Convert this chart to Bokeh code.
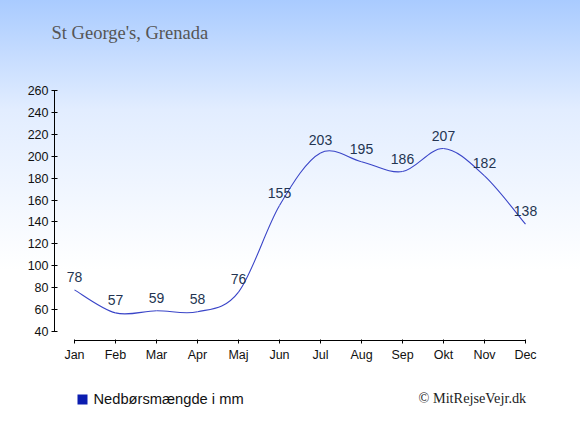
from bokeh.plotting import figure
from bokeh.layouts import column
from bokeh.models import (Range1d, FixedTicker, Label, BoxAnnotation, ColumnDataSource, Title)
from bokeh.core.properties import value
from bokeh.transform import dodge
from bokeh.embed import file_html
from bokeh.resources import INLINE

months = ["Jan", "Feb", "Mar", "Apr", "Maj", "Jun", "Jul", "Aug", "Sep", "Okt", "Nov", "Dec"]
rain_mm = [78, 57, 59, 58, 76, 155, 203, 195, 186, 207, 182, 138]
y_ticks = [40, 60, 80, 100, 120, 140, 160, 180, 200, 220, 240, 260]
title_text = "St George's, Grenada"
legend_text = "Nedbørsmængde i mm"
credit_text = "© MitRejseVejr.dk"

xs = list(range(1, len(months) + 1))


def strip(height, top):
    f = figure(width=580, height=height, output_backend="svg", toolbar_location=None, title=None,
               x_range=Range1d(0, 1), y_range=Range1d(0, 1),
               x_axis_location=None, y_axis_location=None,
               min_border_left=54, min_border_right=35, min_border_top=top, min_border_bottom=0)
    f.border_fill_color = None
    f.background_fill_color = None
    f.outline_line_color = None
    f.grid.visible = False
    return f


# top strip with the title
p0 = strip(44, 42)
p0.add_layout(Title(text=title_text, align="left", vertical_align="bottom", offset=-3, standoff=0,
                    text_font="Liberation Serif", text_font_size="18.5px",
                    text_font_style="normal", text_color="#555555"), "above")

# main chart
p = figure(width=580, height=336, output_backend="svg", toolbar_location=None, title=None,
           x_range=Range1d(1 - 20 / 41, 12 + 20 / 41),
           y_range=Range1d(40 - 9 / 1.0955, 260 + 5 / 1.0955),
           min_border_left=54, min_border_right=35, min_border_top=41, min_border_bottom=40)
p.border_fill_color = None
p.background_fill_color = None
p.outline_line_color = None
p.grid.visible = False

p.xaxis.ticker = FixedTicker(ticks=xs)
p.xaxis.major_label_overrides = {i: m for i, m in zip(xs, months)}
p.xaxis.bounds = (1, 12)
p.yaxis.ticker = FixedTicker(ticks=y_ticks)
p.yaxis.bounds = (y_ticks[0], y_ticks[-1])
for ax in (p.xaxis, p.yaxis):
    ax.axis_line_color = "black"
    ax.major_tick_line_color = "black"
    ax.minor_tick_line_color = None
    ax.major_label_text_font = "Liberation Sans"
    ax.major_label_text_font_size = "12.5px"
    ax.major_label_text_color = "#111111"
p.xaxis.major_tick_in = 1
p.xaxis.major_tick_out = 3
p.xaxis.major_label_standoff = 4
p.yaxis.major_tick_in = 3
p.yaxis.major_tick_out = 3
p.yaxis.major_label_standoff = 3

# smooth line (Catmull-Rom as Bezier segments)
pts = list(zip(xs, rain_mm))
x0, y0, x1, y1, cx0, cy0, cx1, cy1 = [], [], [], [], [], [], [], []
n = len(pts)
for i in range(n - 1):
    pm = pts[max(i - 1, 0)]
    pa = pts[i]
    pb = pts[i + 1]
    pn = pts[min(i + 2, n - 1)]
    x0.append(pa[0]); y0.append(pa[1])
    x1.append(pb[0]); y1.append(pb[1])
    cx0.append(pa[0] + (pb[0] - pm[0]) / 6); cy0.append(pa[1] + (pb[1] - pm[1]) / 6)
    cx1.append(pb[0] - (pn[0] - pa[0]) / 6); cy1.append(pb[1] - (pn[1] - pa[1]) / 6)
p.bezier(x0=x0, y0=y0, x1=x1, y1=y1, cx0=cx0, cy0=cy0, cx1=cx1, cy1=cy1,
         line_color="#3a45c8", line_width=1.1)

# value labels
src = ColumnDataSource(dict(x=xs, y=rain_mm, t=[str(v) for v in rain_mm]))
p.text(x="x", y=dodge("y", 11.8, range=p.y_range), text="t", source=src,
       text_align="center", text_baseline="middle",
       text_font=value("Liberation Sans"), text_font_size="14px", text_color="#243552")

# bottom strip: legend key and credit (frame aligned with p: 54..545)
p2 = strip(55, 0)
p2.add_layout(BoxAnnotation(left=23, right=33, bottom=31, top=41,
                            left_units="screen", right_units="screen",
                            bottom_units="screen", top_units="screen",
                            fill_color="#0b1db0", fill_alpha=1.0, line_color=None))
p2.add_layout(Label(x=39, y=37, x_units="screen", y_units="screen", text=legend_text,
                    text_font="Liberation Sans", text_font_size="14.7px", text_color="#111111",
                    text_baseline="middle"))
p2.add_layout(Label(x=364, y=38, x_units="screen", y_units="screen", text=credit_text,
                    text_font="Liberation Serif", text_font_size="14.3px", text_color="#222222",
                    text_baseline="middle"))

layout = column(p0, p, p2, spacing=0,
                styles={"background": "linear-gradient(to bottom, #a9cbff 0px, #e2edff 110px, #ffffff 270px)"})

open("out.html", "w").write(file_html(layout, INLINE))
